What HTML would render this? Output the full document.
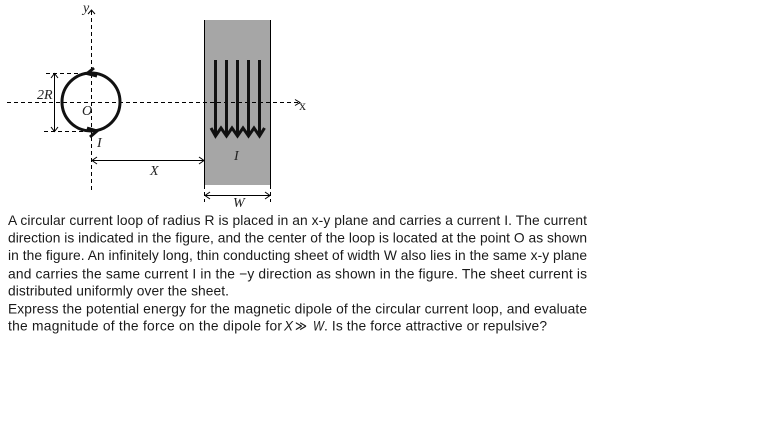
<!DOCTYPE html>
<html>
<head>
<meta charset="utf-8">
<style>
html,body{margin:0;padding:0;background:#fff;width:776px;height:434px;overflow:hidden}
svg{display:block}
.t{font-family:"Liberation Sans",sans-serif;font-size:13.8px;fill:#1a1a1a}
.m{font-family:"Liberation Serif",serif;font-style:italic;font-size:14px;fill:#222}
</style>
</head>
<body>
<svg width="776" height="434" viewBox="0 0 776 434" xmlns="http://www.w3.org/2000/svg">
<rect x="204.5" y="20" width="66" height="165" fill="#a6a6a6"/>
<g stroke="#000" fill="none" stroke-width="1">
<line x1="204.5" y1="20" x2="204.5" y2="185"/>
<line x1="270.5" y1="20" x2="270.5" y2="185"/>
<g stroke-dasharray="4 3">
<line x1="91.5" y1="190" x2="91.5" y2="11"/>
<line x1="7" y1="102.5" x2="298" y2="102.5"/>
<line x1="46" y1="73.5" x2="88" y2="73.5"/>
<line x1="44" y1="131.5" x2="88" y2="131.5"/>
<line x1="204.5" y1="185" x2="204.5" y2="202"/>
<line x1="270.5" y1="185" x2="270.5" y2="202"/>
</g>
<path d="M88 14L91.5 10L95 14"/>
<path d="M295 99.5L300 102.5L295 105.5"/>
<line x1="54.5" y1="74" x2="54.5" y2="131"/>
<path d="M51 78L54.5 73.5L58 78M51 127L54.5 131.5L58 127"/>
<line x1="92" y1="160.5" x2="204" y2="160.5"/>
<path d="M97 157L92 160.5L97 164M199 157L204 160.5L199 164"/>
<line x1="205" y1="195.5" x2="270" y2="195.5"/>
<path d="M210 192L205 195.5L210 199M265 192L270 195.5L265 199"/>
</g>
<circle cx="91" cy="102" r="29" fill="none" stroke="#111" stroke-width="3"/>
<path d="M94 68L87 73.5L97 76" fill="none" stroke="#111" stroke-width="3"/>
<path d="M87 128L97 131L90 137" fill="none" stroke="#111" stroke-width="3"/>
<g stroke="#111" stroke-width="3" fill="none">
<line x1="215.5" y1="60" x2="215.5" y2="135"/>
<line x1="226.5" y1="60" x2="226.5" y2="135"/>
<line x1="237.5" y1="60" x2="237.5" y2="135"/>
<line x1="248.5" y1="60" x2="248.5" y2="135"/>
<line x1="259.5" y1="60" x2="259.5" y2="135"/>
<path d="M211 128L215.5 136L221 128L226.5 136L232 128L237.5 136L243 128L248.5 136L254 128L259.5 136L264.5 128"/>
</g>
<text class="m" x="83" y="12">y</text>
<text class="m" x="299" y="110" style="font-style:normal">x</text>
<text class="m" x="37" y="99">2R</text>
<text class="m" x="82" y="115">O</text>
<text class="m" x="97" y="147">I</text>
<text class="m" x="150" y="175">X</text>
<text class="m" x="234" y="160">I</text>
<text class="m" x="233" y="207">W</text>
<text class="t" x="8" y="225" textLength="579" lengthAdjust="spacing">A circular current loop of radius R is placed in an x-y plane and carries a current I. The current</text>
<text class="t" x="8" y="242.7" textLength="579" lengthAdjust="spacing">direction is indicated in the figure, and the center of the loop is located at the point O as shown</text>
<text class="t" x="8" y="260" textLength="579" lengthAdjust="spacing">in the figure. An infinitely long, thin conducting sheet of width W also lies in the same x-y plane</text>
<text class="t" x="8" y="278.3" textLength="579" lengthAdjust="spacing">and carries the same current I in the −y direction as shown in the figure. The sheet current is</text>
<text class="t" x="8" y="295.7" textLength="221" lengthAdjust="spacing">distributed uniformly over the sheet.</text>
<text class="t" x="8" y="313.3" textLength="579" lengthAdjust="spacing">Express the potential energy for the magnetic dipole of the circular current loop, and evaluate</text>
<text class="t" x="8" y="330.7" textLength="274" lengthAdjust="spacing">the magnitude of the force on the dipole for</text>
<text class="t" x="284" y="330.7" style="font-style:italic" textLength="9" lengthAdjust="spacingAndGlyphs">X</text>
<text class="t" x="295" y="330.7" textLength="12" lengthAdjust="spacingAndGlyphs" style="font-family:'DejaVu Sans',sans-serif">≫</text>
<text class="t" x="313" y="330.7" style="font-style:italic" textLength="11" lengthAdjust="spacingAndGlyphs">W</text>
<text class="t" x="324" y="330.7" textLength="223" lengthAdjust="spacing">. Is the force attractive or repulsive?</text>
</svg>
</body>
</html>
